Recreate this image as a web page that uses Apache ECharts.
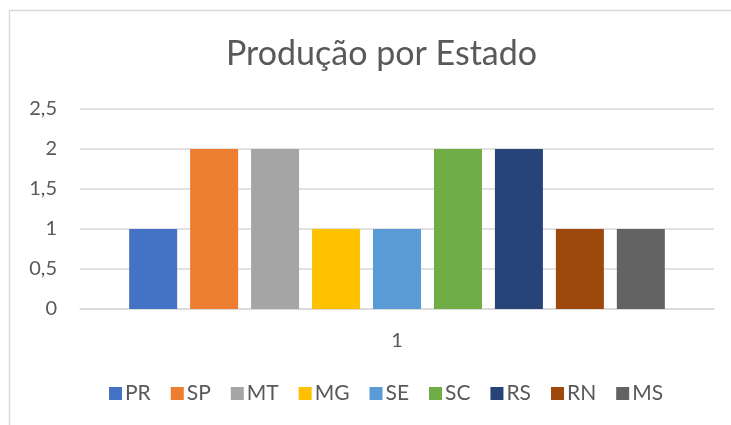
<!DOCTYPE html>
<html>
<head>
<meta charset="utf-8">
<script src="https://cdn.jsdelivr.net/npm/echarts@6/dist/echarts.min.js"></script>
<style>
  html, body { margin: 0; padding: 0; background: #fff; }
  #chart { width: 731px; height: 425px; }
</style>
</head>
<body>
<div id="chart"></div>
<script>
var categories = ['1'];
var estados = ['PR', 'SP', 'MT', 'MG', 'SE', 'SC', 'RS', 'RN', 'MS'];
var valores = [1, 2, 2, 1, 1, 2, 2, 1, 1];
var cores = ['#4472C4', '#ED7D31', '#A5A5A5', '#FFC000', '#5B9BD5', '#70AD47', '#264478', '#9E480E', '#636363'];

var fonte = 'Lato, Open Sans, sans-serif';

var series = [];
for (var i = 0; i < estados.length; i++) {
    series.push({
        name: estados[i],
        type: 'bar',
        data: [valores[i]],
        barWidth: 48,
        barGap: '27%',
        itemStyle: { color: cores[i] }
    });
}

var option = {
    animation: false,
    color: cores,
    graphic: [{
        type: 'rect',
        shape: { x: 9.5, y: 10.5, width: 760, height: 460 },
        style: { fill: 'none', stroke: '#d9d9d9', lineWidth: 1.5 }
    }],
    title: {
        text: 'Produção por Estado',
        left: 221,
        top: 32,
        textStyle: { fontFamily: fonte, fontSize: 34, fontWeight: 'normal', color: '#595959' }
    },
    legend: {
        bottom: 16,
        left: 104,
        itemWidth: 13,
        itemHeight: 13,
        itemGap: 20,
        icon: 'rect',
        textStyle: { fontFamily: fonte, fontSize: 21, color: '#595959', padding: [0, 0, 0, -2] },
        data: estados
    },
    grid: { left: 80, right: 17, top: 109, bottom: 116 },
    xAxis: {
        type: 'category',
        data: categories,
        axisLine: { lineStyle: { color: '#d9d9d9', width: 1.5 } },
        axisTick: { show: false },
        axisLabel: { fontFamily: fonte, fontSize: 20, color: '#595959', margin: 22 }
    },
    yAxis: {
        type: 'value',
        min: 0,
        max: 2.5,
        interval: 0.5,
        axisLine: { show: false },
        axisTick: { show: false },
        splitLine: { lineStyle: { color: '#d9d9d9', width: 1.5 } },
        axisLabel: {
            fontFamily: fonte, fontSize: 20, color: '#595959', margin: 23,
            formatter: function (v) { return String(v).replace('.', ','); }
        }
    },
    series: series
};

var myChart = echarts.init(document.getElementById('chart'));
myChart.setOption(option);
</script>
</body>
</html>
